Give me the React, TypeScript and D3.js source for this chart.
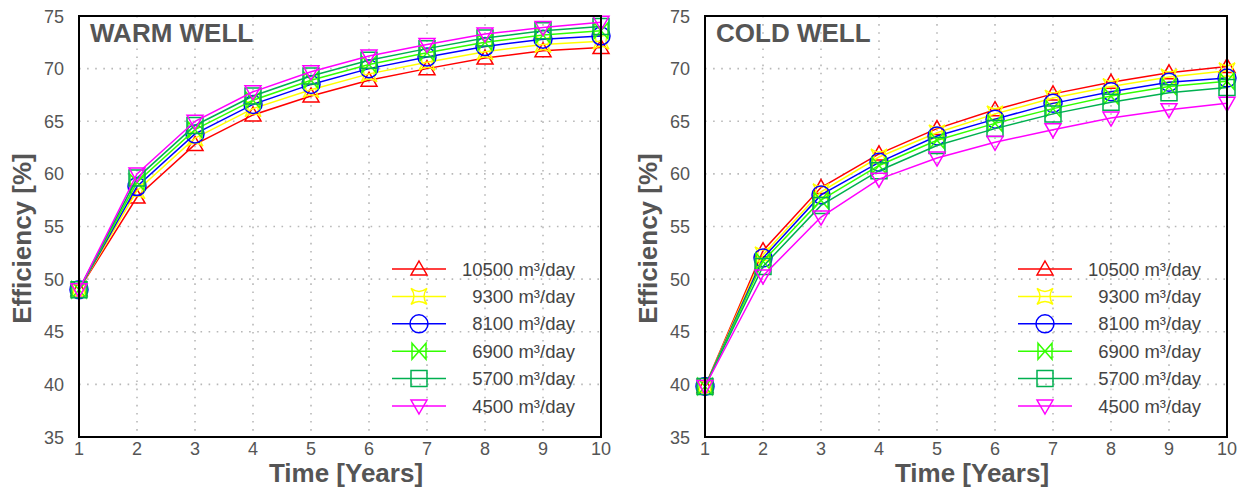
import React, { useRef, useEffect } from 'react';
import * as d3 from 'd3';

const years = [1, 2, 3, 4, 5, 6, 7, 8, 9, 10];
const yTicks = [35, 40, 45, 50, 55, 60, 65, 70, 75];
const seriesNames = ['10500 m³/day', '9300 m³/day', '8100 m³/day', '6900 m³/day', '5700 m³/day', '4500 m³/day'];
const seriesColors = ['#ff0000', '#ffff00', '#0000ff', '#33ff00', '#00b050', '#ff00ff'];
const seriesMarkers = ['triUp', 'star4', 'circle', 'bowtie', 'square', 'triDown'];

// warm well efficiency [%]
const warm10500 = [49, 57.8, 62.8, 65.6, 67.4, 68.9, 70.0, 71.0, 71.7, 72.0];
const warm9300 = [49, 58.4, 63.4, 66.2, 68.0, 69.5, 70.6, 71.6, 72.3, 72.6];
const warm8100 = [49, 58.8, 63.8, 66.6, 68.5, 70.0, 71.1, 72.1, 72.8, 73.1];
const warm6900 = [49, 59.2, 64.2, 67.0, 68.9, 70.4, 71.5, 72.5, 73.2, 73.6];
const warm5700 = [49, 59.6, 64.6, 67.4, 69.3, 70.8, 71.9, 72.9, 73.6, 74.0];
const warm4500 = [49, 60.0, 65.0, 67.8, 69.7, 71.2, 72.3, 73.3, 73.9, 74.4];

// cold well efficiency [%]
const cold10500 = [39.8, 52.7, 58.7, 61.9, 64.3, 66.1, 67.6, 68.7, 69.6, 70.2];
const cold9300 = [39.8, 52.3, 58.3, 61.6, 63.9, 65.7, 67.2, 68.3, 69.2, 69.8];
const cold8100 = [39.8, 52.0, 58.0, 61.1, 63.6, 65.2, 66.7, 67.8, 68.7, 69.1];
const cold6900 = [39.8, 51.7, 57.5, 60.8, 63.2, 64.8, 66.2, 67.4, 68.3, 68.8];
const cold5700 = [39.8, 51.2, 57.0, 60.3, 62.7, 64.3, 65.7, 66.8, 67.7, 68.2];
const cold4500 = [39.8, 50.3, 55.9, 59.5, 61.5, 63.0, 64.2, 65.3, 66.1, 66.7];

const panels = [
    { title: 'WARM WELL', series: [warm10500, warm9300, warm8100, warm6900, warm5700, warm4500] },
    { title: 'COLD WELL', series: [cold10500, cold9300, cold8100, cold6900, cold5700, cold4500] },
];

const markerPath = (kind: string) => {
    switch (kind) {
        case 'triUp': return 'M0,-8L8,6L-8,6Z';
        case 'triDown': return 'M0,8L8,-6L-8,-6Z';
        case 'square': return 'M-8,-8H8V8H-8Z';
        case 'star4': return 'M-8,-8Q0,-2 8,-8Q2,0 8,8Q0,2 -8,8Q-2,0 -8,-8Z';
        case 'bowtie': return 'M-7,-8L7,8V-8L-7,8Z';
        default: return '';
    }
};

const App = () => {
    const ref = useRef<SVGSVGElement>(null);

    useEffect(() => {
        document.body.style.margin = '0';
        const svg = d3.select(ref.current)
            .attr('width', 1249)
            .attr('height', 490);

        svg.selectAll('*').remove();

        const font = 'Liberation Sans, Arial, sans-serif';
        const top = 16, bottom = 437;

        panels.forEach((p, pi) => {
            const left = pi === 0 ? 79 : 705;
            const right = left + 522;
            const x = d3.scaleLinear().domain([1, 10]).range([left, right]);
            const y = d3.scaleLinear().domain([35, 75]).range([bottom, top]);

            const g = svg.append('g');

            // grid
            g.selectAll('.vgrid').data(years.slice(1, -1)).enter().append('line')
                .attr('x1', d => x(d)).attr('x2', d => x(d))
                .attr('y1', top).attr('y2', bottom)
                .attr('stroke', '#b8b8b8').attr('stroke-width', 1.6)
                .attr('stroke-dasharray', '1.6 6.5');
            g.selectAll('.hgrid').data(yTicks.slice(1, -1)).enter().append('line')
                .attr('x1', left).attr('x2', right)
                .attr('y1', d => y(d)).attr('y2', d => y(d))
                .attr('stroke', '#b8b8b8').attr('stroke-width', 1.6)
                .attr('stroke-dasharray', '1.6 6.5');

            // tick labels
            g.selectAll('.ylab').data(yTicks).enter().append('text')
                .attr('x', left - 15).attr('y', d => y(d) + 6.5)
                .attr('text-anchor', 'end')
                .style('font', `18px ${font}`).attr('fill', '#555')
                .text(d => d);
            g.selectAll('.xlab').data(years).enter().append('text')
                .attr('x', d => x(d)).attr('y', 455)
                .attr('text-anchor', 'middle')
                .style('font', `18px ${font}`).attr('fill', '#555')
                .text(d => d);

            // axis titles
            g.append('text')
                .attr('x', (left + right) / 2 + 6).attr('y', 482)
                .attr('text-anchor', 'middle')
                .style('font', `bold 26px ${font}`).attr('fill', '#555')
                .text('Time [Years]');
            g.append('text')
                .attr('transform', `translate(${left - 48},${(top + bottom) / 2 + 12}) rotate(-90)`)
                .attr('text-anchor', 'middle')
                .style('font', `bold 26px ${font}`).attr('fill', '#555')
                .text('Efficiency [%]');

            // panel title
            g.append('text')
                .attr('x', left + 11).attr('y', 42)
                .style('font', `bold 26px ${font}`).attr('fill', '#555')
                .text(p.title);

            // series
            const line = d3.line<number>().x((_, i) => x(years[i])).y(d => y(d));
            p.series.forEach((s, si) => {
                const color = seriesColors[si];
                const kind = seriesMarkers[si];
                g.append('path').datum(s)
                    .attr('d', line)
                    .attr('fill', 'none').attr('stroke', color).attr('stroke-width', 1.5);
                const mk = g.selectAll(`.m${si}`).data(s).enter();
                if (kind === 'circle') {
                    mk.append('circle')
                        .attr('cx', (_, i) => x(years[i])).attr('cy', d => y(d)).attr('r', 9)
                        .attr('fill', 'none').attr('stroke', color).attr('stroke-width', 1.5);
                } else {
                    mk.append('path')
                        .attr('transform', (d, i) => `translate(${x(years[i])},${y(d)})`)
                        .attr('d', markerPath(kind))
                        .attr('fill', 'none').attr('stroke', color).attr('stroke-width', 1.5);
                }
            });

            // legend
            const lx = left + 313;
            seriesNames.forEach((name, si) => {
                const ly = 269 + si * 27.4;
                const color = seriesColors[si];
                g.append('line')
                    .attr('x1', lx).attr('x2', lx + 54).attr('y1', ly).attr('y2', ly)
                    .attr('stroke', color).attr('stroke-width', 1.5);
                if (seriesMarkers[si] === 'circle') {
                    g.append('circle').attr('cx', lx + 27).attr('cy', ly).attr('r', 9)
                        .attr('fill', 'none').attr('stroke', color).attr('stroke-width', 1.5);
                } else {
                    g.append('path')
                        .attr('transform', `translate(${lx + 27},${ly})`)
                        .attr('d', markerPath(seriesMarkers[si]))
                        .attr('fill', 'none').attr('stroke', color).attr('stroke-width', 1.5);
                }
                g.append('text')
                    .attr('x', lx + 183).attr('y', ly + 6.5)
                    .attr('text-anchor', 'end')
                    .style('font', `18.5px ${font}`).attr('fill', '#444')
                    .text(name);
            });

            // frame
            g.append('rect')
                .attr('x', left).attr('y', top)
                .attr('width', right - left).attr('height', bottom - top)
                .attr('fill', 'none').attr('stroke', '#000').attr('stroke-width', 2);
        });
    }, []);

    return (
        <svg ref={ref} style={{ display: 'block' }}></svg>
    );
};

export default App;
